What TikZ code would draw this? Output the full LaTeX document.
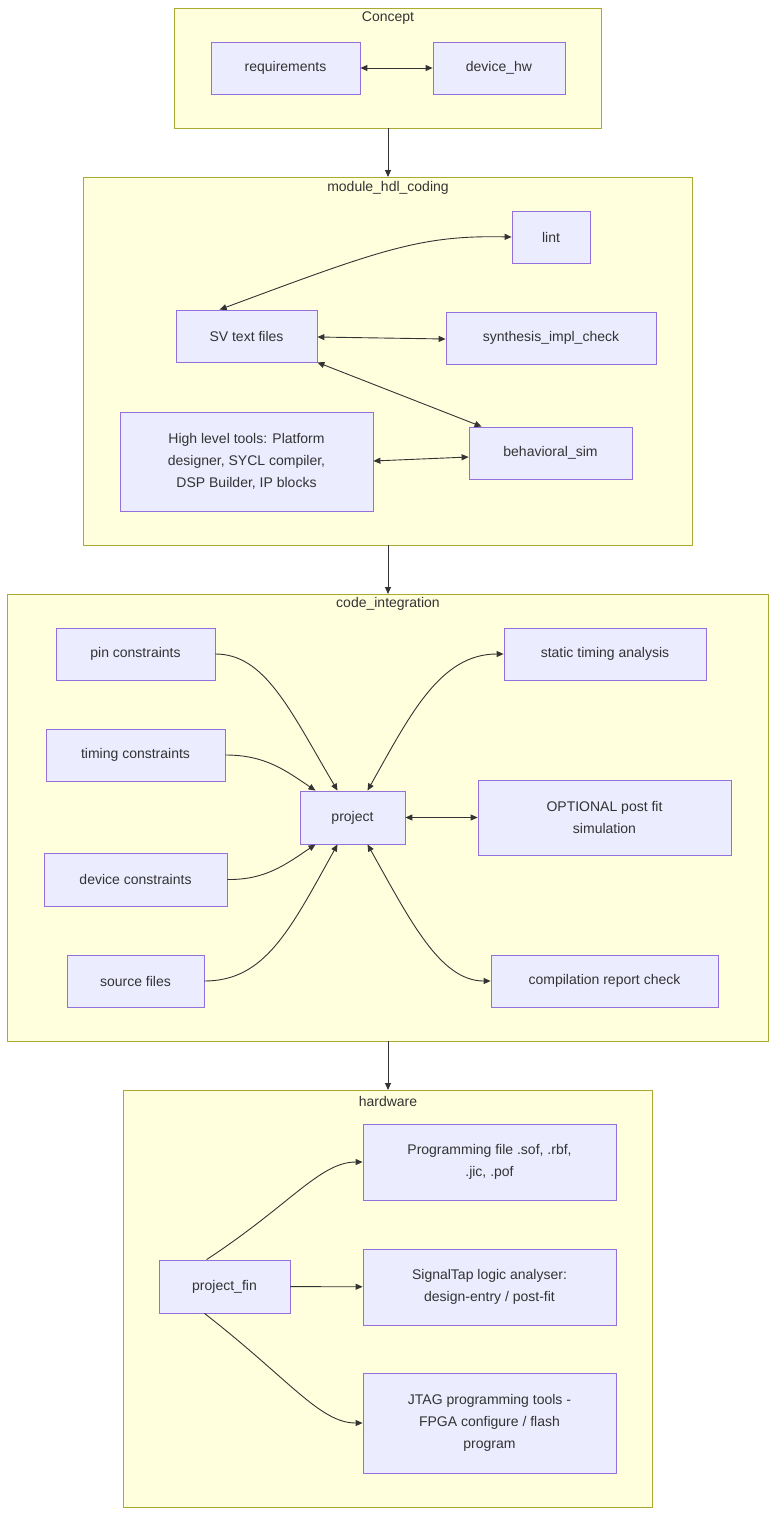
\documentclass[tikz,border=0pt]{standalone}
\usepackage{fontspec}
\setmainfont{Liberation Sans}
\usetikzlibrary{arrows.meta}
\definecolor{clf}{HTML}{FFFFDE}
\definecolor{cls}{HTML}{AAAA33}
\definecolor{ndf}{HTML}{ECECFF}
\definecolor{nds}{HTML}{9370DB}
\definecolor{txt}{HTML}{333333}
\begin{document}
\begin{tikzpicture}[x=1pt,y=-1pt,
  cl/.style={draw=cls,fill=clf,line width=0.8pt},
  ttl/.style={text=txt,font=\fontsize{14}{17}\selectfont},
  nd/.style={draw=nds,fill=ndf,line width=0.8pt,text=txt,font=\fontsize{14}{22}\selectfont,align=center,inner sep=0pt},
  ar/.style={draw=txt,line width=0.9pt,-{Triangle[length=7pt,width=6pt]}},
  ba/.style={draw=txt,line width=0.9pt,{Triangle[length=7pt,width=6pt]}-{Triangle[length=7pt,width=6pt]}}]
\useasboundingbox (0,0) rectangle (784,1531);
% clusters
\draw[cl] (174,8) rectangle (601,128);
\node[ttl] (tc) at (388,18) {Concept};
\draw[cl] (83,177) rectangle (692,545);
\node[ttl] (tm) at (388,188) {module\_hdl\_coding};
\draw[cl] (7,594) rectangle (768,1041);
\node[ttl] (ti) at (388,604) {code\_integration};
\draw[cl] (123,1090) rectangle (652,1507);
\node[ttl] (th) at (388,1101) {hardware};
\coordinate (c1) at (388,128); \coordinate (m0) at (388,177);
\coordinate (m1) at (388,545); \coordinate (i0) at (388,594);
\coordinate (i1) at (388,1041); \coordinate (h0) at (388,1090);
% nodes
\newcommand{\bx}[6]{\node[nd,minimum width=#3-#2,minimum height=#5-#4] (#1) at ({(#2+#3)/2},{(#4+#5)/2}) {#6};}
\bx{req}{211}{360}{42}{94}{requirements}
\bx{dev}{433}{565}{42}{94}{device\_hw}
\bx{lint}{512}{590}{211}{263}{lint}
\bx{sv}{176}{317}{310}{362}{SV text files}
\bx{syn}{446}{656}{312}{364}{synthesis\_impl\_check}
\bx{hl}{120}{373}{412}{511}{High level tools: Platform\\designer, SYCL compiler,\\DSP Builder, IP blocks}
\bx{beh}{469}{632}{427}{479}{behavioral\_sim}
\bx{pin}{56}{215}{628}{680}{pin constraints}
\bx{tim}{46}{225}{729}{781}{timing constraints}
\bx{dc}{44}{227}{853}{906}{device constraints}
\bx{src}{67}{204}{955}{1007}{source files}
\bx{prj}{300}{405}{791}{844}{project}
\bx{sta}{504}{706}{628}{680}{static timing analysis}
\bx{opt}{478}{731}{780}{855}{OPTIONAL post fit\\simulation}
\bx{crc}{491}{718}{955}{1007}{compilation report check}
\bx{pf}{159}{290}{1260}{1313}{project\_fin}
\bx{pgm}{363}{616}{1124}{1200}{Programming file .sof, .rbf,\\.jic, .pof}
\bx{st}{363}{616}{1249}{1325}{SignalTap logic analyser:\\design-entry / post-fit}
\bx{jt}{363}{616}{1373}{1473}{JTAG programming tools -\\FPGA configure / flash\\program}
% edges
\draw[ba] (req) -- (dev);
\draw[ar] (c1) -- (m0);
\draw[ar] (m1) -- (i0);
\draw[ar] (i1) -- (h0);
\draw[ba] (lint.west) .. controls (420,235) and (380,250) .. ([xshift=44pt]sv.north west);
\draw[ba] (sv.east |- 0,337) -- (syn.west |- 0,339);
\draw[ba] (sv.south east) -- ([xshift=13pt]beh.north west);
\draw[ba] (hl.east |- 0,461) -- (beh.west |- 0,457);
\draw[ar] (pin.east) .. controls (265,654) and (290,710) .. ([xshift=-15pt]prj.north);
\draw[ar] (tim.east) .. controls (265,755) and (285,770) .. ([xshift=-37pt]prj.north);
\draw[ar] (dc.east) .. controls (265,880) and (285,865) .. ([xshift=-37pt]prj.south);
\draw[ar] (src.east) .. controls (265,981) and (290,930) .. ([xshift=-15pt]prj.south);
\draw[ba] ([xshift=15pt]prj.north) .. controls (410,715) and (440,654) .. (sta.west);
\draw[ba] (prj) -- (opt);
\draw[ba] ([xshift=15pt]prj.south) .. controls (410,920) and (440,981) .. (crc.west);
\draw[ar] ([xshift=-18pt]pf.north) .. controls (290,1205) and (320,1162) .. (pgm.west);
\draw[ar] (pf) -- (st);
\draw[ar] ([xshift=-20pt]pf.south) .. controls (290,1380) and (320,1423) .. (jt.west);
\end{tikzpicture}
\end{document}
